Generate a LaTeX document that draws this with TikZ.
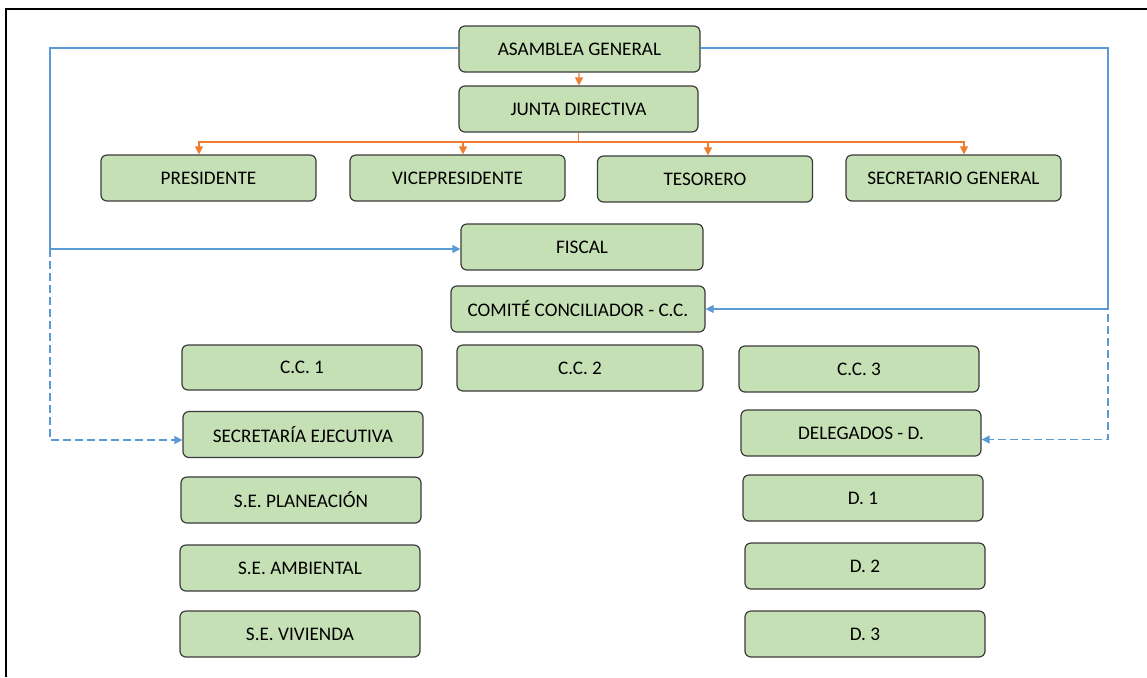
\documentclass[tikz,border=0pt]{standalone}
\usepackage{fontspec}
\setmainfont{Carlito}
\usepackage{tikz}
\usetikzlibrary{arrows.meta, positioning}

\definecolor{verdeCaja}{HTML}{C5E0B4}
\definecolor{bordeCaja}{HTML}{3B3B3B}
\definecolor{naranja}{HTML}{ED7D31}
\definecolor{azul}{HTML}{5B9BD5}

\begin{document}
\begin{tikzpicture}[
        x=0.5pt, y=-0.5pt,              % 1 unidad = 1 pixel de la figura
        >={Triangle[length=4pt, width=4pt]}, % Punta de flecha triangular
        caja/.style={                   % Estilo de todas las cajas
            rectangle,
            rounded corners=3pt,
            draw=bordeCaja,
            line width=0.6pt,
            fill=verdeCaja,
            minimum width=120pt,
            minimum height=23pt,
            font=\fontsize{9.6}{11.5}\selectfont
        },
        linea naranja/.style={->, draw=naranja, line width=0.6pt},
        linea azul/.style={->, draw=azul, line width=0.6pt},
        punteada/.style={linea azul, dash pattern=on 4pt off 2pt}
    ]

    \useasboundingbox (0,0) rectangle (1147,677);

    % --- Marco ---
    \draw[line width=0.8pt] (6,677) -- (6,9) -- (1147,9);

    % --- Direccion ---

    % 1. Asamblea y Junta
    \node[caja, minimum width=120.5pt] (AG) at (579.5,49) {ASAMBLEA GENERAL};
    \node[caja, minimum width=119.5pt] (JD) at (578.5,109) {JUNTA DIRECTIVA};

    % 2. Dignatarios
    \node[caja, minimum width=107.5pt] (PRES) at (208.5,178) {PRESIDENTE};
    \node[caja, minimum width=107.5pt] (VICE) at (457.5,178) {VICEPRESIDENTE};
    \node[caja, minimum width=107.5pt] (TES)  at (705,179)   {TESORERO};
    \node[caja, minimum width=107.5pt] (SG)   at (953.5,178) {SECRETARIO GENERAL};

    % 3. Control
    \node[caja, minimum width=121pt] (FIS) at (582,247) {FISCAL};
    \node[caja, minimum width=127pt] (CCC) at (578,309) {COMITÉ CONCILIADOR - C.C.};

    % --- Comite conciliador ---
    \node[caja, minimum height=22.5pt] (CC1) at (302,367.5) {C.C. 1};
    \node[caja, minimum width=123pt]   (CC2) at (580,368)   {C.C. 2};
    \node[caja]                        (CC3) at (859,369)   {C.C. 3};

    % --- Secretaria ejecutiva (izquierda) ---
    \node[caja] (SE)   at (303,434.5) {SECRETARÍA EJECUTIVA};
    \node[caja] (PLAN) at (301,500)   {S.E. PLANEACIÓN};
    \node[caja] (AMB)  at (300,568)   {S.E. AMBIENTAL};
    \node[caja] (VIV)  at (300,634)   {S.E. VIVIENDA};

    % --- Delegados (derecha) ---
    \node[caja] (DEL) at (861,433) {DELEGADOS - D.};
    \node[caja] (D1)  at (863,498) {D. 1};
    \node[caja] (D2)  at (865,566) {D. 2};
    \node[caja] (D3)  at (865,634) {D. 3};

    % --- Conexiones naranjas ---
    \draw[linea naranja] (AG) -- (JD);
    \coordinate (bus) at (578.5,142);
    \draw[draw=naranja, line width=0.6pt] (JD.south) -- (bus);
    \foreach \dest/\dx in {PRES/-4.75, VICE/2.75, TES/1.5, SG/5.25}
        \draw[linea naranja] (bus) -| ([xshift=\dx pt]\dest.north);

    % --- Conexiones azules ---
    \coordinate (esqIzq) at (50,48);
    \coordinate (nudoIzq) at (50,249);
    \coordinate (esqDer) at (1108,48);
    \coordinate (nudoDer) at (1108,302);

    % 1. Asamblea -> Fiscal
    \draw[linea azul] (AG.west |- esqIzq) -- (esqIzq) -- (nudoIzq) -- (nudoIzq -| FIS.west);

    % 2. Asamblea -> Comite conciliador
    \draw[linea azul] (AG.east |- esqDer) -- (esqDer) |- (CCC.east);

    % 3. Lineas punteadas a Secretaria y Delegados
    \draw[punteada] (nudoIzq) |- ([yshift=-2.75pt]SE.west);
    \draw[punteada] (nudoDer) |- ([yshift=-3.25pt]DEL.east);

\end{tikzpicture}
\end{document}
